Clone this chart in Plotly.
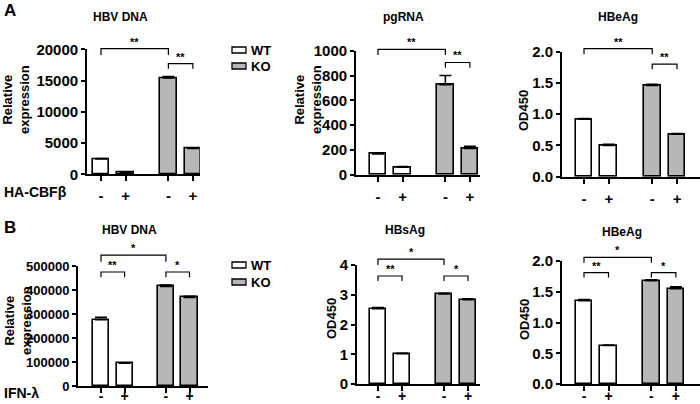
import plotly.graph_objects as go

# ---------------- data ----------------
groups = ["WT", "KO"]
row_a_treat = "HA-CBFβ"
row_b_treat = "IFN-λ"
tick_text = ["-", "+", "-", "+"]

a1_title = "HBV DNA"
a1_wt = [2450, 350]
a1_ko = [15400, 4150]
a1_wt_err = [60, 40]
a1_ko_err = [250, 40]

a2_title = "pgRNA"
a2_wt = [167, 60]
a2_ko = [725, 212]
a2_wt_err = [5, 6]
a2_ko_err = [75, 18]

a3_title = "HBeAg"
a3_wt = [0.92, 0.50]
a3_ko = [1.46, 0.68]
a3_wt_err = [0.01, 0.02]
a3_ko_err = [0.02, 0.01]

b1_title = "HBV DNA"
b1_wt = [276000, 95000]
b1_ko = [415000, 369000]
b1_wt_err = [10000, 1500]
b1_ko_err = [6000, 5000]

b2_title = "HBsAg"
b2_wt = [2.53, 1.02]
b2_ko = [3.03, 2.83]
b2_wt_err = [0.04, 0.01]
b2_ko_err = [0.02, 0.03]

b3_title = "HBeAg"
b3_wt = [1.355, 0.625]
b3_ko = [1.68, 1.55]
b3_wt_err = [0.02, 0.01]
b3_ko_err = [0.015, 0.03]

# significance brackets: (from bar, to bar, level, drop, label)
a1_sig = [(0, 2, 20100, 19100, "**"), (2, 3, 17700, 16900, "**")]
a2_sig = [(0, 2, 1010, 965, "**"), (2, 3, 905, 862, "**")]
a3_sig = [(0, 2, 2.05, 1.96, "**"), (2, 3, 1.80, 1.72, "**")]
b1_sig = [(0, 2, 545000, 518000, "*"), (0, 1, 475000, 453000, "**"), (2, 3, 475000, 453000, "*")]
b2_sig = [(0, 2, 4.20, 4.00, "*"), (0, 1, 3.63, 3.46, "**"), (2, 3, 3.63, 3.46, "*")]
b3_sig = [(0, 2, 2.06, 1.97, "*"), (0, 1, 1.81, 1.73, "**"), (2, 3, 1.81, 1.73, "*")]

# ---------------- layout helpers ----------------
W, H = 700, 404
FONT = "Liberation Sans, Arial, sans-serif"
KO_COLOR = "#b7b7b7"
bar_pos = [0, 1, 2.75, 3.75]


def fx(px):
    return px / W


def fy(py):
    return 1 - py / H


# pixel geometry for each panel
panels = [
    dict(title=a1_title, wt=a1_wt, ko=a1_ko, wte=a1_wt_err, koe=a1_ko_err, sig=a1_sig,
         ax=87, b1=101, unit=24.5, right=200, top=49.3, bot=174.3, ymax=20000, dtick=5000,
         ytitle="Relative<br>expression", yt_x=16, yt_y=100, tx=120, ty=17, tfs=15,
         xso=2, xfs=15),
    dict(title=a2_title, wt=a2_wt, ko=a2_ko, wte=a2_wt_err, koe=a2_ko_err, sig=a2_sig,
         ax=356, b1=378, unit=24.5, right=480, top=50.7, bot=174.7, ymax=1000, dtick=200,
         ytitle="Relative<br>expression", yt_x=308, yt_y=100, tx=403, ty=17, tfs=15,
         xso=2, xfs=15),
    dict(title=a3_title, wt=a3_wt, ko=a3_ko, wte=a3_wt_err, koe=a3_ko_err, sig=a3_sig,
         ax=562, b1=584, unit=24.8, right=700, top=51.7, bot=176.7, ymax=2.0, dtick=0.5,
         ytitle="OD450", yt_x=523, yt_y=111, tx=618, ty=17, tfs=15, fmt=".1f",
         xso=2, xfs=15),
    dict(title=b1_title, wt=b1_wt, ko=b1_ko, wte=b1_wt_err, koe=b1_ko_err, sig=b1_sig,
         ax=78, b1=101, unit=23.6, right=208, top=266, bot=386, ymax=500000, dtick=100000,
         ytitle="Relative<br>expression", yt_x=18, yt_y=321, tx=129, ty=230, tfs=13,
         xso=-9, xfs=14),
    dict(title=b2_title, wt=b2_wt, ko=b2_ko, wte=b2_wt_err, koe=b2_ko_err, sig=b2_sig,
         ax=357, b1=378, unit=24.0, right=480, top=265, bot=384, ymax=4, dtick=1,
         ytitle="OD450", yt_x=331, yt_y=319, tx=405, ty=230, tfs=15,
         xso=-7, xfs=14),
    dict(title=b3_title, wt=b3_wt, ko=b3_ko, wte=b3_wt_err, koe=b3_ko_err, sig=b3_sig,
         ax=562, b1=584, unit=24.5, right=700, top=261, bot=384, ymax=2.0, dtick=0.5,
         ytitle="OD450", yt_x=524, yt_y=320, tx=622, ty=232, tfs=15, fmt=".1f",
         xso=-7, xfs=14),
]

fig = go.Figure()
shapes = []
annotations = []
layout_axes = {}

for i, p in enumerate(panels):
    n = i + 1
    xa = "x" if n == 1 else f"x{n}"
    ya = "y" if n == 1 else f"y{n}"
    xr = [(p["ax"] - p["b1"]) / p["unit"], (p["right"] - p["b1"]) / p["unit"]]
    yr = [0, p["ymax"]]
    xdom = [fx(p["ax"]), min(1.0, fx(p["right"]))]
    ydom = [fy(p["bot"]), fy(p["top"])]

    def mx(v, xr=xr, xdom=xdom):
        return xdom[0] + (v - xr[0]) / (xr[1] - xr[0]) * (xdom[1] - xdom[0])

    def my(v, yr=yr, ydom=ydom):
        return ydom[0] + (v - yr[0]) / (yr[1] - yr[0]) * (ydom[1] - ydom[0])

    vals = p["wt"] + p["ko"]
    errs = p["wte"] + p["koe"]
    colors = ["white", "white", KO_COLOR, KO_COLOR]
    fig.add_trace(go.Bar(
        x=bar_pos, y=vals, width=0.68, xaxis=xa, yaxis=ya,
        marker=dict(color=colors, line=dict(color="black", width=1.6)),
        error_y=dict(type="data", symmetric=False, array=errs, arrayminus=[0] * 4,
                     color="black", thickness=1.6, width=6),
        showlegend=False, cliponaxis=False,
    ))

    xkey = "xaxis" if n == 1 else f"xaxis{n}"
    ykey = "yaxis" if n == 1 else f"yaxis{n}"
    layout_axes[xkey] = dict(
        domain=xdom, range=xr, anchor=ya, showgrid=False, zeroline=False,
        showline=True, linecolor="black", linewidth=1.8, automargin=False,
        ticks="outside", ticklen=5, tickwidth=1.6, tickcolor="black",
        tickvals=bar_pos, ticktext=tick_text, ticklabelstandoff=p["xso"],
        tickfont=dict(family=FONT, size=p["xfs"], color="black", weight="bold"),
        fixedrange=True,
    )
    layout_axes[ykey] = dict(
        domain=ydom, range=yr, anchor=xa, showgrid=False, zeroline=False,
        showline=True, linecolor="black", linewidth=1.8, automargin=False,
        ticks="outside", ticklen=4, tickwidth=1.6, tickcolor="black",
        tick0=0, dtick=p["dtick"], tickformat=p.get("fmt", "d"),
        tickfont=dict(family=FONT, size=p["tfs"], color="black", weight="bold"),
        fixedrange=True,
    )

    # panel title
    annotations.append(dict(
        text=p["title"], xref="paper", yref="paper", x=fx(p["tx"]), y=fy(p["ty"]),
        xanchor="center", yanchor="middle", showarrow=False,
        font=dict(family=FONT, size=12, color="black", weight="bold")))
    # y-axis title
    annotations.append(dict(
        text=p["ytitle"], xref="paper", yref="paper", x=fx(p["yt_x"]), y=fy(p["yt_y"]),
        xanchor="center", yanchor="middle", showarrow=False, textangle=-90,
        font=dict(family=FONT, size=13, color="black", weight="bold")))

    # significance brackets
    for (a, b, lev, drop, lab) in p["sig"]:
        x1, x2 = mx(bar_pos[a]), mx(bar_pos[b])
        y1, y0 = my(lev), my(drop)
        shapes.append(dict(
            type="path", xref="paper", yref="paper",
            path=f"M {x1},{y0} L {x1},{y1} L {x2},{y1} L {x2},{y0}",
            line=dict(color="black", width=1.2)))
        annotations.append(dict(
            text=lab, xref="paper", yref="paper", x=(x1 + x2) / 2, y=y1 - 1 / H,
            xanchor="center", yanchor="bottom", showarrow=False,
            font=dict(family=FONT, size=11, color="black", weight="bold")))

# legends (manual, as in the figure)
for (lx, ly_list) in [(232, [50, 66]), (232, [265, 282])]:
    for g, ly in zip(groups, ly_list):
        shapes.append(dict(
            type="rect", xref="paper", yref="paper",
            x0=fx(lx), x1=fx(lx + 14), y0=fy(ly + 3), y1=fy(ly - 3),
            fillcolor="white" if g == "WT" else KO_COLOR,
            line=dict(color="black", width=1.3)))
        annotations.append(dict(
            text=g, xref="paper", yref="paper", x=fx(lx + 17), y=fy(ly),
            xanchor="left", yanchor="middle", showarrow=False,
            font=dict(family=FONT, size=13, color="black", weight="bold")))

# treatment labels and panel letters
for txt, x, y, fs in [(row_a_treat, 2, 192, 14), (row_b_treat, 2, 393, 14),
                      ("A", 2, 10, 17), ("B", 2, 227, 17)]:
    annotations.append(dict(
        text=txt, xref="paper", yref="paper", x=fx(x), y=fy(y),
        xanchor="left", yanchor="middle", showarrow=False,
        font=dict(family=FONT, size=fs, color="black", weight="bold")))

fig.update_layout(
    width=W, height=H, margin=dict(l=0, r=0, t=0, b=0),
    paper_bgcolor="white", plot_bgcolor="white",
    shapes=shapes, annotations=annotations, showlegend=False,
    bargap=0, **layout_axes,
)

fig.write_html("out.html", config={"displayModeBar": False},
               post_script="document.body.style.margin='0px';document.body.style.padding='0px';")
